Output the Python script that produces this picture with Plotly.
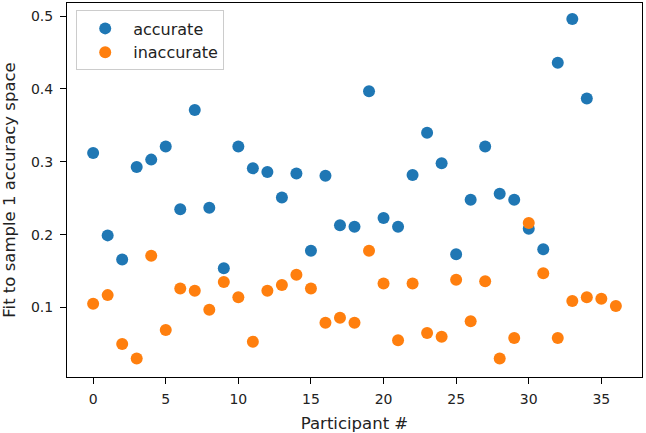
import plotly.graph_objects as go

participants_acc = list(range(35))
accurate = [0.312, 0.199, 0.166, 0.293, 0.303, 0.321, 0.235, 0.371, 0.237, 0.154,
            0.321, 0.291, 0.286, 0.251, 0.284, 0.178, 0.281, 0.213, 0.211, 0.397,
            0.223, 0.211, 0.282, 0.340, 0.298, 0.173, 0.248, 0.321, 0.256, 0.248,
            0.208, 0.180, 0.436, 0.496, 0.387]
participants_inacc = list(range(37))
inaccurate = [0.105, 0.117, 0.050, 0.030, 0.171, 0.069, 0.126, 0.123, 0.097, 0.135,
              0.114, 0.053, 0.123, 0.131, 0.145, 0.126, 0.079, 0.086, 0.079, 0.178,
              0.133, 0.055, 0.133, 0.065, 0.060, 0.138, 0.081, 0.136, 0.030, 0.058,
              0.216, 0.147, 0.058, 0.109, 0.114, 0.112, 0.102]
x_ticks = [0, 5, 10, 15, 20, 25, 30, 35]
y_ticks = [0.1, 0.2, 0.3, 0.4, 0.5]

fig = go.Figure()
fig.add_trace(go.Scatter(x=participants_acc, y=accurate, mode="markers", name="accurate",
                         marker=dict(color="#1f77b4", size=12, line=dict(width=0))))
fig.add_trace(go.Scatter(x=participants_inacc, y=inaccurate, mode="markers", name="inaccurate",
                         marker=dict(color="#ff7f0e", size=12, line=dict(width=0))))

axis_common = dict(showline=True, linecolor="black", linewidth=1, mirror=True,
                   ticks="outside", ticklen=6, tickcolor="black", showgrid=False,
                   zeroline=False, automargin=False, tickfont=dict(size=14, color="#222"))
fig.update_layout(
    width=646, height=433,
    margin=dict(l=67, r=4, t=3, b=56),
    plot_bgcolor="white", paper_bgcolor="white",
    font=dict(family="DejaVu Sans", size=14, color="#222"),
    xaxis=dict(range=[-1.8, 37.8], tickvals=x_ticks, ticklabelstandoff=3,
               title=dict(text="Participant #", standoff=12, font=dict(size=16.5)), **axis_common),
    yaxis=dict(range=[0.0046, 0.518], tickvals=y_ticks, tickformat=".1f", ticklabelstandoff=4,
               title=dict(text="Fit to sample 1 accuracy space", standoff=12, font=dict(size=16.5)),
               **axis_common),
    legend=dict(x=0.016, y=0.98, xanchor="left", yanchor="top",
                bordercolor="#cccccc", borderwidth=1, bgcolor="rgba(255,255,255,0.8)",
                font=dict(size=16), itemwidth=46),
    showlegend=True,
)
fig.write_html("out.html", config={"displayModeBar": False},
               post_script="document.body.style.margin='0';")
